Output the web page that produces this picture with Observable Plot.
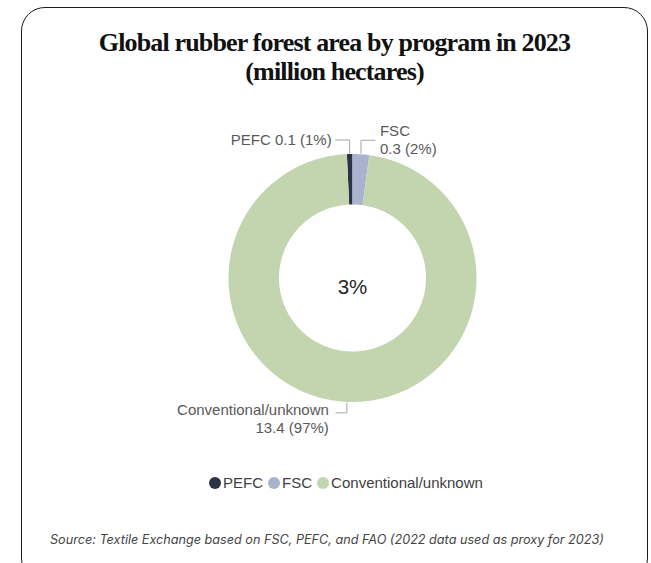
<!DOCTYPE html>
<html>
<head>
<meta charset="utf-8">
<script src="https://cdn.jsdelivr.net/npm/d3@7"></script>
<script src="https://cdn.jsdelivr.net/npm/@observablehq/plot@0.6"></script>
<style>
  html, body { margin: 0; padding: 0; background: #fff; }
  body { width: 651px; height: 563px; overflow: hidden; position: relative; font-family: "Liberation Sans", Arial, sans-serif; }
  #card { position: absolute; left: 21px; top: 7px; width: 627px; height: 575px; box-sizing: border-box; border: 1.6px solid #1a1a1a; border-radius: 24px; }
  #title { position: absolute; left: 21px; width: 627px; top: 28px; text-align: center; font-family: "Liberation Serif", "DejaVu Serif", serif; font-weight: 700; font-size: 26px; line-height: 29px; letter-spacing: -0.85px; color: #111; }
  #chart { position: absolute; left: 0; top: 100px; }
  #legend { position: absolute; left: 0; top: 474px; width: 697px; text-align: center; font-size: 15px; line-height: 18px; color: #404040; white-space: nowrap; }
  #legend .item { display: inline-flex; align-items: center; margin-right: 5px; }
  #legend .sw { width: 12px; height: 12px; flex: 0 0 12px; border-radius: 50%; display: inline-block; margin-right: 2px; }
  #caption { position: absolute; left: 50px; top: 532px; text-align: left; font-family: Inter, "Liberation Sans", sans-serif; font-style: italic; font-size: 12.65px; line-height: 15px; color: #444; white-space: nowrap; }
</style>
</head>
<body>
<div id="card"></div>
<div id="title">Global rubber forest area by program in 2023<br>(million hectares)</div>
<div id="chart"></div>
<div id="legend"></div>
<div id="caption">Source: Textile Exchange based on FSC, PEFC, and FAO (2022 data used as proxy for 2023)</div>
<script>
// ---- data ----
const categories = ["PEFC", "FSC", "Conventional/unknown"];
const values = [0.1, 0.3, 13.4];
const percentLabels = ["1%", "2%", "97%"];
const colors = ["#2c3349", "#a9b2cf", "#c3d5ae"];
const centerLabel = "3%";

// ---- layout ----
const W = 651, H = 400;
const cx = 352, cy = 177.5, R = 124;
const inner = 73.5 / R;
const total = d3.sum(values);
const start = -(values[0] / total) * 2 * Math.PI;

const pie = d3.pie().sort(null).value(d => d.value)
  .startAngle(start).endAngle(start + 2 * Math.PI);
const arcs = pie(categories.map((name, i) => ({name, value: values[i], pct: percentLabels[i]})));

// polygon vertices for each slice (geometry from pie angles)
const pts = [];
for (const a of arcs) {
  const n = Math.max(6, Math.ceil((a.endAngle - a.startAngle) / 0.01));
  for (let k = 0; k <= n; k++) {
    const t = a.startAngle + (a.endAngle - a.startAngle) * k / n;
    pts.push({name: a.data.name, x: Math.sin(t), y: -Math.cos(t)});
  }
  for (let k = n; k >= 0; k--) {
    const t = a.startAngle + (a.endAngle - a.startAngle) * k / n;
    pts.push({name: a.data.name, x: inner * Math.sin(t), y: -inner * Math.cos(t)});
  }
}

// leaders & labels
const px = 1 / R;
const leaders = [];
const labels = [];
arcs.forEach(a => {
  const m = (a.startAngle + a.endAngle) / 2;
  const ox = Math.sin(m), oy = -Math.cos(m);
  const top = oy < 0;
  const left = ox < 0 || !top;
  const ey = top ? oy - 14 * px : oy + 11 * px;
  const ex = left ? ox - (top ? 14 : 11) * px : ox + 14 * px;
  const sy = top ? oy - 1 * px : oy + 1 * px;
  leaders.push({name: a.data.name, x: ox, y: sy});
  leaders.push({name: a.data.name, x: ox, y: ey});
  leaders.push({name: a.data.name, x: ex, y: ey});
  const d = a.data;
  let text, anchor, dy, gap;
  if (d.name === "PEFC") { text = `${d.name} ${d.value} (${d.pct})`; anchor = "end"; dy = -1; gap = -4; }
  else if (d.name === "FSC") { text = `${d.name}\n${d.value} (${d.pct})`; anchor = "start"; dy = -1.5; gap = 5; }
  else { text = `${d.name}\n${d.value} (${d.pct})`; anchor = "end"; dy = 5; gap = -7; }
  labels.push({x: ex + gap * px, y: ey, text, anchor, dy});
});

const chart = Plot.plot({
  width: W, height: H, margin: 0,
  style: {background: "transparent", overflow: "visible"},
  x: {domain: [-1, 1], range: [cx - R, cx + R], axis: null},
  y: {domain: [-1, 1], range: [cy - R, cy + R], axis: null},
  color: {domain: categories, range: colors},
  marks: [
    Plot.line(pts, {x: "x", y: "y", z: "name", fill: "name", stroke: "none", curve: "linear-closed"}),
    Plot.line(leaders, {x: "x", y: "y", z: "name", stroke: "#a6a6a6", strokeWidth: 1}),
    ...labels.map(l => Plot.text([l], {x: "x", y: "y", text: "text", textAnchor: l.anchor, dy: l.dy,
      lineAnchor: "middle", lineHeight: 1.2, fontSize: 15, fill: "#595959",
      fontFamily: "Liberation Sans, Arial, sans-serif"})),
    Plot.text([centerLabel], {x: () => 0, y: () => 0, text: d => d, dy: 9.5, fontSize: 20.5, fill: "#262626",
      fontFamily: "Liberation Sans, Arial, sans-serif"})
  ]
});
document.getElementById("chart").appendChild(chart);

// legend
const lg = document.getElementById("legend");
categories.forEach((c, i) => {
  const s = document.createElement("span");
  s.className = "item";
  s.innerHTML = `<span class="sw" style="background:${colors[i]}"></span>${c}`;
  lg.appendChild(s);
});
</script>
</body>
</html>
